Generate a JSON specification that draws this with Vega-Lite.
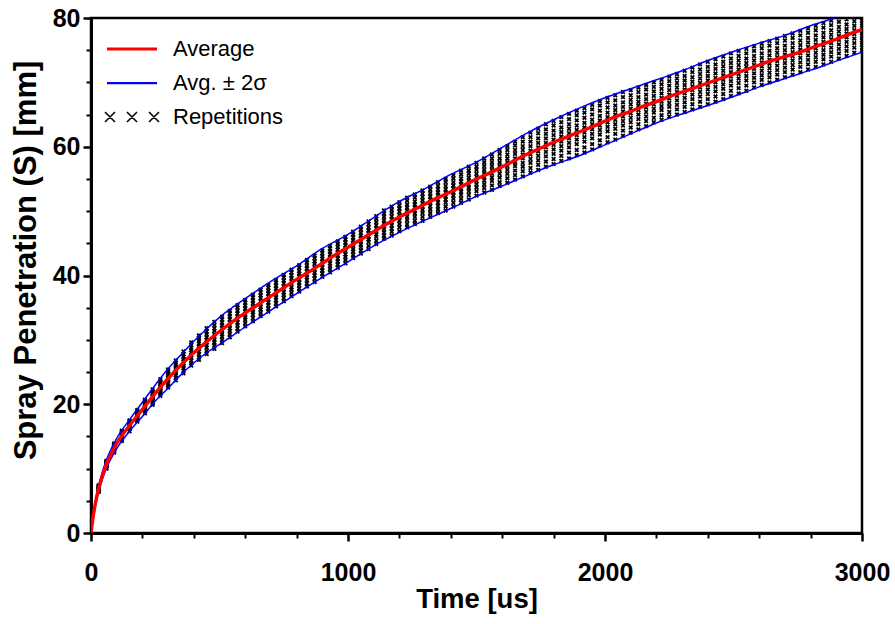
{
  "$schema": "https://vega.github.io/schema/vega-lite/v6.json",
  "width": 771,
  "height": 515,
  "autosize": {"type": "none"},
  "padding": {"left": 91, "top": 18, "right": 33, "bottom": 91},
  "background": "white",
  "config": {
    "view": {"stroke": "black", "strokeWidth": 2.5},
    "font": "Liberation Sans",
    "legend": {"orient": "none", "legendX": 30, "legendY": 20, "padding": 0, "symbolSize": 100, "symbolOpacity": 1,
      "labelFont": "Liberation Sans", "labelFontSize": 22, "labelColor": "black", "labelOffset": 30, "rowPadding": 12, "labelBaseline": "middle"}
  },
  "datasets": {
    "reps": [
      {"t":30,"s":6.4},{"t":30,"s":6.5},{"t":30,"s":6.7},{"t":30,"s":6.8},{"t":30,"s":6.9},{"t":30,"s":7.0},{"t":30,"s":7.1},{"t":30,"s":7.2},{"t":30,"s":7.3},{"t":30,"s":7.4},
      {"t":60,"s":10.0},{"t":60,"s":10.1},{"t":60,"s":10.3},{"t":60,"s":10.4},{"t":60,"s":10.5},{"t":60,"s":10.7},{"t":60,"s":10.8},{"t":60,"s":10.9},{"t":60,"s":11.1},{"t":60,"s":11.2},
      {"t":90,"s":12.5},{"t":90,"s":12.7},{"t":90,"s":12.8},{"t":90,"s":13.0},{"t":90,"s":13.1},{"t":90,"s":13.3},{"t":90,"s":13.4},{"t":90,"s":13.6},{"t":90,"s":13.7},{"t":90,"s":13.9},
      {"t":120,"s":14.3},{"t":120,"s":14.5},{"t":120,"s":14.7},{"t":120,"s":14.8},{"t":120,"s":15.0},{"t":120,"s":15.2},{"t":120,"s":15.4},{"t":120,"s":15.5},{"t":120,"s":15.7},{"t":120,"s":15.9},
      {"t":150,"s":15.8},{"t":150,"s":16.1},{"t":150,"s":16.3},{"t":150,"s":16.4},{"t":150,"s":16.6},{"t":150,"s":16.8},{"t":150,"s":17.0},{"t":150,"s":17.2},{"t":150,"s":17.4},{"t":150,"s":17.5},
      {"t":180,"s":17.3},{"t":180,"s":17.5},{"t":180,"s":17.7},{"t":180,"s":17.9},{"t":180,"s":18.1},{"t":180,"s":18.3},{"t":180,"s":18.5},{"t":180,"s":18.7},{"t":180,"s":18.9},{"t":180,"s":19.1},
      {"t":210,"s":18.6},{"t":210,"s":18.9},{"t":210,"s":19.2},{"t":210,"s":19.4},{"t":210,"s":19.6},{"t":210,"s":19.8},{"t":210,"s":20.0},{"t":210,"s":20.3},{"t":210,"s":20.5},{"t":210,"s":20.7},
      {"t":240,"s":19.9},{"t":240,"s":20.2},{"t":240,"s":20.5},{"t":240,"s":20.7},{"t":240,"s":21.0},{"t":240,"s":21.2},{"t":240,"s":21.5},{"t":240,"s":21.7},{"t":240,"s":22.0},{"t":240,"s":22.3},
      {"t":270,"s":21.3},{"t":270,"s":21.6},{"t":270,"s":21.9},{"t":270,"s":22.2},{"t":270,"s":22.5},{"t":270,"s":22.7},{"t":270,"s":23.0},{"t":270,"s":23.3},{"t":270,"s":23.6},{"t":270,"s":23.9},
      {"t":300,"s":22.6},{"t":300,"s":22.9},{"t":300,"s":23.3},{"t":300,"s":23.6},{"t":300,"s":23.9},{"t":300,"s":24.2},{"t":300,"s":24.5},{"t":300,"s":24.8},{"t":300,"s":25.1},{"t":300,"s":25.4},
      {"t":330,"s":23.7},{"t":330,"s":24.1},{"t":330,"s":24.5},{"t":330,"s":24.8},{"t":330,"s":25.1},{"t":330,"s":25.5},{"t":330,"s":25.8},{"t":330,"s":26.1},{"t":330,"s":26.5},{"t":330,"s":26.8},
      {"t":360,"s":24.8},{"t":360,"s":25.2},{"t":360,"s":25.6},{"t":360,"s":26.0},{"t":360,"s":26.3},{"t":360,"s":26.7},{"t":360,"s":27.0},{"t":360,"s":27.4},{"t":360,"s":27.8},{"t":360,"s":28.2},
      {"t":390,"s":26.0},{"t":390,"s":26.4},{"t":390,"s":26.8},{"t":390,"s":27.2},{"t":390,"s":27.6},{"t":390,"s":28.0},{"t":390,"s":28.4},{"t":390,"s":28.8},{"t":390,"s":29.2},{"t":390,"s":29.6},
      {"t":420,"s":26.9},{"t":420,"s":27.3},{"t":420,"s":27.8},{"t":420,"s":28.2},{"t":420,"s":28.6},{"t":420,"s":29.0},{"t":420,"s":29.4},{"t":420,"s":29.8},{"t":420,"s":30.3},{"t":420,"s":30.7},
      {"t":450,"s":27.8},{"t":450,"s":28.3},{"t":450,"s":28.8},{"t":450,"s":29.2},{"t":450,"s":29.6},{"t":450,"s":30.0},{"t":450,"s":30.4},{"t":450,"s":30.9},{"t":450,"s":31.3},{"t":450,"s":31.8},
      {"t":480,"s":28.6},{"t":480,"s":29.1},{"t":480,"s":29.6},{"t":480,"s":30.0},{"t":480,"s":30.5},{"t":480,"s":30.9},{"t":480,"s":31.4},{"t":480,"s":31.8},{"t":480,"s":32.3},{"t":480,"s":32.8},
      {"t":510,"s":29.5},{"t":510,"s":30.0},{"t":510,"s":30.5},{"t":510,"s":30.9},{"t":510,"s":31.4},{"t":510,"s":31.8},{"t":510,"s":32.3},{"t":510,"s":32.7},{"t":510,"s":33.2},{"t":510,"s":33.6},
      {"t":540,"s":30.4},{"t":540,"s":30.9},{"t":540,"s":31.4},{"t":540,"s":31.8},{"t":540,"s":32.3},{"t":540,"s":32.7},{"t":540,"s":33.2},{"t":540,"s":33.6},{"t":540,"s":34.1},{"t":540,"s":34.5},
      {"t":570,"s":31.3},{"t":570,"s":31.8},{"t":570,"s":32.3},{"t":570,"s":32.7},{"t":570,"s":33.2},{"t":570,"s":33.6},{"t":570,"s":34.1},{"t":570,"s":34.5},{"t":570,"s":35.0},{"t":570,"s":35.4},
      {"t":600,"s":32.1},{"t":600,"s":32.6},{"t":600,"s":33.1},{"t":600,"s":33.5},{"t":600,"s":34.0},{"t":600,"s":34.4},{"t":600,"s":34.9},{"t":600,"s":35.3},{"t":600,"s":35.8},{"t":600,"s":36.2},
      {"t":630,"s":32.9},{"t":630,"s":33.4},{"t":630,"s":33.9},{"t":630,"s":34.3},{"t":630,"s":34.8},{"t":630,"s":35.2},{"t":630,"s":35.7},{"t":630,"s":36.1},{"t":630,"s":36.6},{"t":630,"s":37.0},
      {"t":660,"s":33.7},{"t":660,"s":34.2},{"t":660,"s":34.7},{"t":660,"s":35.1},{"t":660,"s":35.6},{"t":660,"s":36.0},{"t":660,"s":36.5},{"t":660,"s":36.9},{"t":660,"s":37.4},{"t":660,"s":37.8},
      {"t":690,"s":34.4},{"t":690,"s":34.9},{"t":690,"s":35.4},{"t":690,"s":35.8},{"t":690,"s":36.3},{"t":690,"s":36.7},{"t":690,"s":37.2},{"t":690,"s":37.6},{"t":690,"s":38.1},{"t":690,"s":38.5},
      {"t":720,"s":35.2},{"t":720,"s":35.7},{"t":720,"s":36.2},{"t":720,"s":36.6},{"t":720,"s":37.1},{"t":720,"s":37.5},{"t":720,"s":38.0},{"t":720,"s":38.4},{"t":720,"s":38.9},{"t":720,"s":39.3},
      {"t":750,"s":36.0},{"t":750,"s":36.5},{"t":750,"s":37.0},{"t":750,"s":37.4},{"t":750,"s":37.9},{"t":750,"s":38.3},{"t":750,"s":38.8},{"t":750,"s":39.2},{"t":750,"s":39.7},{"t":750,"s":40.1},
      {"t":780,"s":36.8},{"t":780,"s":37.3},{"t":780,"s":37.8},{"t":780,"s":38.2},{"t":780,"s":38.7},{"t":780,"s":39.1},{"t":780,"s":39.6},{"t":780,"s":40.0},{"t":780,"s":40.5},{"t":780,"s":40.9},
      {"t":810,"s":37.5},{"t":810,"s":38.0},{"t":810,"s":38.5},{"t":810,"s":38.9},{"t":810,"s":39.4},{"t":810,"s":39.8},{"t":810,"s":40.3},{"t":810,"s":40.7},{"t":810,"s":41.2},{"t":810,"s":41.6},
      {"t":840,"s":38.3},{"t":840,"s":38.8},{"t":840,"s":39.3},{"t":840,"s":39.7},{"t":840,"s":40.2},{"t":840,"s":40.6},{"t":840,"s":41.1},{"t":840,"s":41.5},{"t":840,"s":42.0},{"t":840,"s":42.4},
      {"t":870,"s":39.0},{"t":870,"s":39.5},{"t":870,"s":40.0},{"t":870,"s":40.4},{"t":870,"s":40.9},{"t":870,"s":41.3},{"t":870,"s":41.8},{"t":870,"s":42.2},{"t":870,"s":42.7},{"t":870,"s":43.1},
      {"t":900,"s":39.8},{"t":900,"s":40.3},{"t":900,"s":40.8},{"t":900,"s":41.2},{"t":900,"s":41.7},{"t":900,"s":42.1},{"t":900,"s":42.6},{"t":900,"s":43.0},{"t":900,"s":43.5},{"t":900,"s":43.9},
      {"t":930,"s":40.5},{"t":930,"s":41.0},{"t":930,"s":41.5},{"t":930,"s":41.9},{"t":930,"s":42.4},{"t":930,"s":42.8},{"t":930,"s":43.3},{"t":930,"s":43.7},{"t":930,"s":44.2},{"t":930,"s":44.6},
      {"t":960,"s":41.2},{"t":960,"s":41.7},{"t":960,"s":42.2},{"t":960,"s":42.6},{"t":960,"s":43.1},{"t":960,"s":43.5},{"t":960,"s":44.0},{"t":960,"s":44.4},{"t":960,"s":44.9},{"t":960,"s":45.3},
      {"t":990,"s":41.9},{"t":990,"s":42.4},{"t":990,"s":42.9},{"t":990,"s":43.3},{"t":990,"s":43.8},{"t":990,"s":44.2},{"t":990,"s":44.7},{"t":990,"s":45.1},{"t":990,"s":45.6},{"t":990,"s":46.0},
      {"t":1020,"s":42.7},{"t":1020,"s":43.2},{"t":1020,"s":43.7},{"t":1020,"s":44.1},{"t":1020,"s":44.6},{"t":1020,"s":45.0},{"t":1020,"s":45.5},{"t":1020,"s":45.9},{"t":1020,"s":46.4},{"t":1020,"s":46.8},
      {"t":1050,"s":43.4},{"t":1050,"s":43.9},{"t":1050,"s":44.4},{"t":1050,"s":44.8},{"t":1050,"s":45.3},{"t":1050,"s":45.7},{"t":1050,"s":46.2},{"t":1050,"s":46.6},{"t":1050,"s":47.1},{"t":1050,"s":47.6},
      {"t":1080,"s":44.1},{"t":1080,"s":44.6},{"t":1080,"s":45.2},{"t":1080,"s":45.6},{"t":1080,"s":46.1},{"t":1080,"s":46.5},{"t":1080,"s":47.0},{"t":1080,"s":47.5},{"t":1080,"s":48.0},{"t":1080,"s":48.4},
      {"t":1110,"s":44.9},{"t":1110,"s":45.4},{"t":1110,"s":46.0},{"t":1110,"s":46.4},{"t":1110,"s":46.9},{"t":1110,"s":47.3},{"t":1110,"s":47.8},{"t":1110,"s":48.3},{"t":1110,"s":48.8},{"t":1110,"s":49.2},
      {"t":1140,"s":45.7},{"t":1140,"s":46.2},{"t":1140,"s":46.7},{"t":1140,"s":47.2},{"t":1140,"s":47.7},{"t":1140,"s":48.1},{"t":1140,"s":48.6},{"t":1140,"s":49.1},{"t":1140,"s":49.6},{"t":1140,"s":50.1},
      {"t":1170,"s":46.2},{"t":1170,"s":46.8},{"t":1170,"s":47.3},{"t":1170,"s":47.8},{"t":1170,"s":48.3},{"t":1170,"s":48.7},{"t":1170,"s":49.2},{"t":1170,"s":49.7},{"t":1170,"s":50.2},{"t":1170,"s":50.7},
      {"t":1200,"s":46.9},{"t":1200,"s":47.5},{"t":1200,"s":48.0},{"t":1200,"s":48.5},{"t":1200,"s":49.0},{"t":1200,"s":49.4},{"t":1200,"s":49.9},{"t":1200,"s":50.4},{"t":1200,"s":50.9},{"t":1200,"s":51.4},
      {"t":1230,"s":47.5},{"t":1230,"s":48.0},{"t":1230,"s":48.6},{"t":1230,"s":49.1},{"t":1230,"s":49.6},{"t":1230,"s":50.1},{"t":1230,"s":50.5},{"t":1230,"s":51.0},{"t":1230,"s":51.6},{"t":1230,"s":52.1},
      {"t":1260,"s":48.0},{"t":1260,"s":48.5},{"t":1260,"s":49.1},{"t":1260,"s":49.6},{"t":1260,"s":50.1},{"t":1260,"s":50.6},{"t":1260,"s":51.0},{"t":1260,"s":51.5},{"t":1260,"s":52.1},{"t":1260,"s":52.6},
      {"t":1290,"s":48.5},{"t":1290,"s":49.1},{"t":1290,"s":49.7},{"t":1290,"s":50.2},{"t":1290,"s":50.7},{"t":1290,"s":51.2},{"t":1290,"s":51.7},{"t":1290,"s":52.2},{"t":1290,"s":52.7},{"t":1290,"s":53.2},
      {"t":1320,"s":49.1},{"t":1320,"s":49.7},{"t":1320,"s":50.3},{"t":1320,"s":50.8},{"t":1320,"s":51.3},{"t":1320,"s":51.8},{"t":1320,"s":52.3},{"t":1320,"s":52.8},{"t":1320,"s":53.3},{"t":1320,"s":53.8},
      {"t":1350,"s":49.7},{"t":1350,"s":50.3},{"t":1350,"s":50.8},{"t":1350,"s":51.3},{"t":1350,"s":51.8},{"t":1350,"s":52.4},{"t":1350,"s":52.9},{"t":1350,"s":53.4},{"t":1350,"s":53.9},{"t":1350,"s":54.5},
      {"t":1380,"s":50.1},{"t":1380,"s":50.7},{"t":1380,"s":51.3},{"t":1380,"s":51.8},{"t":1380,"s":52.3},{"t":1380,"s":52.9},{"t":1380,"s":53.4},{"t":1380,"s":53.9},{"t":1380,"s":54.5},{"t":1380,"s":55.0},
      {"t":1410,"s":50.7},{"t":1410,"s":51.3},{"t":1410,"s":51.9},{"t":1410,"s":52.4},{"t":1410,"s":52.9},{"t":1410,"s":53.5},{"t":1410,"s":54.0},{"t":1410,"s":54.5},{"t":1410,"s":55.1},{"t":1410,"s":55.6},
      {"t":1440,"s":51.3},{"t":1440,"s":51.9},{"t":1440,"s":52.5},{"t":1440,"s":53.0},{"t":1440,"s":53.5},{"t":1440,"s":54.1},{"t":1440,"s":54.6},{"t":1440,"s":55.1},{"t":1440,"s":55.7},{"t":1440,"s":56.3},
      {"t":1470,"s":51.8},{"t":1470,"s":52.5},{"t":1470,"s":53.1},{"t":1470,"s":53.6},{"t":1470,"s":54.1},{"t":1470,"s":54.7},{"t":1470,"s":55.2},{"t":1470,"s":55.8},{"t":1470,"s":56.3},{"t":1470,"s":56.9},
      {"t":1500,"s":52.4},{"t":1500,"s":53.1},{"t":1500,"s":53.7},{"t":1500,"s":54.2},{"t":1500,"s":54.7},{"t":1500,"s":55.3},{"t":1500,"s":55.8},{"t":1500,"s":56.4},{"t":1500,"s":56.9},{"t":1500,"s":57.5},
      {"t":1530,"s":52.9},{"t":1530,"s":53.6},{"t":1530,"s":54.2},{"t":1530,"s":54.8},{"t":1530,"s":55.3},{"t":1530,"s":55.9},{"t":1530,"s":56.4},{"t":1530,"s":57.0},{"t":1530,"s":57.6},{"t":1530,"s":58.2},
      {"t":1560,"s":53.3},{"t":1560,"s":54.0},{"t":1560,"s":54.7},{"t":1560,"s":55.2},{"t":1560,"s":55.8},{"t":1560,"s":56.4},{"t":1560,"s":57.0},{"t":1560,"s":57.6},{"t":1560,"s":58.2},{"t":1560,"s":58.8},
      {"t":1590,"s":53.9},{"t":1590,"s":54.5},{"t":1590,"s":55.2},{"t":1590,"s":55.8},{"t":1590,"s":56.4},{"t":1590,"s":57.0},{"t":1590,"s":57.6},{"t":1590,"s":58.2},{"t":1590,"s":58.9},{"t":1590,"s":59.5},
      {"t":1620,"s":54.4},{"t":1620,"s":55.1},{"t":1620,"s":55.8},{"t":1620,"s":56.4},{"t":1620,"s":57.0},{"t":1620,"s":57.6},{"t":1620,"s":58.2},{"t":1620,"s":58.8},{"t":1620,"s":59.5},{"t":1620,"s":60.1},
      {"t":1650,"s":54.9},{"t":1650,"s":55.6},{"t":1650,"s":56.3},{"t":1650,"s":57.0},{"t":1650,"s":57.6},{"t":1650,"s":58.2},{"t":1650,"s":58.9},{"t":1650,"s":59.5},{"t":1650,"s":60.2},{"t":1650,"s":60.8},
      {"t":1680,"s":55.4},{"t":1680,"s":56.2},{"t":1680,"s":56.9},{"t":1680,"s":57.5},{"t":1680,"s":58.2},{"t":1680,"s":58.8},{"t":1680,"s":59.5},{"t":1680,"s":60.1},{"t":1680,"s":60.8},{"t":1680,"s":61.5},
      {"t":1710,"s":56.0},{"t":1710,"s":56.7},{"t":1710,"s":57.5},{"t":1710,"s":58.1},{"t":1710,"s":58.8},{"t":1710,"s":59.4},{"t":1710,"s":60.1},{"t":1710,"s":60.8},{"t":1710,"s":61.5},{"t":1710,"s":62.2},
      {"t":1740,"s":56.4},{"t":1740,"s":57.2},{"t":1740,"s":57.9},{"t":1740,"s":58.6},{"t":1740,"s":59.3},{"t":1740,"s":59.9},{"t":1740,"s":60.6},{"t":1740,"s":61.3},{"t":1740,"s":62.1},{"t":1740,"s":62.8},
      {"t":1770,"s":56.9},{"t":1770,"s":57.7},{"t":1770,"s":58.5},{"t":1770,"s":59.2},{"t":1770,"s":59.9},{"t":1770,"s":60.6},{"t":1770,"s":61.3},{"t":1770,"s":62.0},{"t":1770,"s":62.7},{"t":1770,"s":63.5},
      {"t":1800,"s":57.3},{"t":1800,"s":58.1},{"t":1800,"s":58.9},{"t":1800,"s":59.6},{"t":1800,"s":60.3},{"t":1800,"s":61.1},{"t":1800,"s":61.8},{"t":1800,"s":62.5},{"t":1800,"s":63.3},{"t":1800,"s":64.0},
      {"t":1830,"s":57.8},{"t":1830,"s":58.6},{"t":1830,"s":59.4},{"t":1830,"s":60.1},{"t":1830,"s":60.8},{"t":1830,"s":61.6},{"t":1830,"s":62.3},{"t":1830,"s":63.0},{"t":1830,"s":63.8},{"t":1830,"s":64.6},
      {"t":1860,"s":58.2},{"t":1860,"s":59.1},{"t":1860,"s":59.9},{"t":1860,"s":60.6},{"t":1860,"s":61.3},{"t":1860,"s":62.1},{"t":1860,"s":62.8},{"t":1860,"s":63.5},{"t":1860,"s":64.3},{"t":1860,"s":65.1},
      {"t":1890,"s":58.7},{"t":1890,"s":59.5},{"t":1890,"s":60.4},{"t":1890,"s":61.1},{"t":1890,"s":61.8},{"t":1890,"s":62.6},{"t":1890,"s":63.3},{"t":1890,"s":64.1},{"t":1890,"s":64.9},{"t":1890,"s":65.6},
      {"t":1920,"s":59.1},{"t":1920,"s":59.9},{"t":1920,"s":60.8},{"t":1920,"s":61.5},{"t":1920,"s":62.2},{"t":1920,"s":63.0},{"t":1920,"s":63.7},{"t":1920,"s":64.5},{"t":1920,"s":65.3},{"t":1920,"s":66.0},
      {"t":1950,"s":59.6},{"t":1950,"s":60.4},{"t":1950,"s":61.3},{"t":1950,"s":62.0},{"t":1950,"s":62.7},{"t":1950,"s":63.5},{"t":1950,"s":64.2},{"t":1950,"s":65.0},{"t":1950,"s":65.8},{"t":1950,"s":66.5},
      {"t":1980,"s":60.2},{"t":1980,"s":61.0},{"t":1980,"s":61.9},{"t":1980,"s":62.6},{"t":1980,"s":63.3},{"t":1980,"s":64.1},{"t":1980,"s":64.8},{"t":1980,"s":65.6},{"t":1980,"s":66.4},{"t":1980,"s":67.1},
      {"t":2010,"s":60.7},{"t":2010,"s":61.5},{"t":2010,"s":62.4},{"t":2010,"s":63.1},{"t":2010,"s":63.8},{"t":2010,"s":64.6},{"t":2010,"s":65.3},{"t":2010,"s":66.1},{"t":2010,"s":66.9},{"t":2010,"s":67.6},
      {"t":2040,"s":61.1},{"t":2040,"s":62.0},{"t":2040,"s":62.8},{"t":2040,"s":63.5},{"t":2040,"s":64.2},{"t":2040,"s":65.0},{"t":2040,"s":65.7},{"t":2040,"s":66.4},{"t":2040,"s":67.2},{"t":2040,"s":68.0},
      {"t":2070,"s":61.7},{"t":2070,"s":62.5},{"t":2070,"s":63.3},{"t":2070,"s":64.0},{"t":2070,"s":64.7},{"t":2070,"s":65.5},{"t":2070,"s":66.2},{"t":2070,"s":66.9},{"t":2070,"s":67.7},{"t":2070,"s":68.5},
      {"t":2100,"s":62.2},{"t":2100,"s":63.0},{"t":2100,"s":63.8},{"t":2100,"s":64.5},{"t":2100,"s":65.2},{"t":2100,"s":65.9},{"t":2100,"s":66.6},{"t":2100,"s":67.3},{"t":2100,"s":68.0},{"t":2100,"s":68.8},
      {"t":2130,"s":62.7},{"t":2130,"s":63.5},{"t":2130,"s":64.3},{"t":2130,"s":65.0},{"t":2130,"s":65.7},{"t":2130,"s":66.4},{"t":2130,"s":67.0},{"t":2130,"s":67.7},{"t":2130,"s":68.5},{"t":2130,"s":69.2},
      {"t":2160,"s":63.2},{"t":2160,"s":64.0},{"t":2160,"s":64.7},{"t":2160,"s":65.4},{"t":2160,"s":66.1},{"t":2160,"s":66.7},{"t":2160,"s":67.4},{"t":2160,"s":68.1},{"t":2160,"s":68.9},{"t":2160,"s":69.6},
      {"t":2190,"s":63.8},{"t":2190,"s":64.5},{"t":2190,"s":65.3},{"t":2190,"s":65.9},{"t":2190,"s":66.6},{"t":2190,"s":67.2},{"t":2190,"s":67.9},{"t":2190,"s":68.6},{"t":2190,"s":69.3},{"t":2190,"s":70.0},
      {"t":2220,"s":64.2},{"t":2220,"s":64.9},{"t":2220,"s":65.7},{"t":2220,"s":66.3},{"t":2220,"s":67.0},{"t":2220,"s":67.6},{"t":2220,"s":68.3},{"t":2220,"s":69.0},{"t":2220,"s":69.7},{"t":2220,"s":70.4},
      {"t":2250,"s":64.7},{"t":2250,"s":65.4},{"t":2250,"s":66.2},{"t":2250,"s":66.8},{"t":2250,"s":67.5},{"t":2250,"s":68.1},{"t":2250,"s":68.8},{"t":2250,"s":69.5},{"t":2250,"s":70.2},{"t":2250,"s":70.9},
      {"t":2280,"s":65.0},{"t":2280,"s":65.8},{"t":2280,"s":66.5},{"t":2280,"s":67.2},{"t":2280,"s":67.9},{"t":2280,"s":68.5},{"t":2280,"s":69.2},{"t":2280,"s":69.9},{"t":2280,"s":70.6},{"t":2280,"s":71.3},
      {"t":2310,"s":65.4},{"t":2310,"s":66.2},{"t":2310,"s":66.9},{"t":2310,"s":67.6},{"t":2310,"s":68.3},{"t":2310,"s":68.9},{"t":2310,"s":69.6},{"t":2310,"s":70.3},{"t":2310,"s":71.0},{"t":2310,"s":71.8},
      {"t":2340,"s":65.8},{"t":2340,"s":66.6},{"t":2340,"s":67.4},{"t":2340,"s":68.1},{"t":2340,"s":68.8},{"t":2340,"s":69.4},{"t":2340,"s":70.1},{"t":2340,"s":70.8},{"t":2340,"s":71.6},{"t":2340,"s":72.3},
      {"t":2370,"s":66.2},{"t":2370,"s":67.0},{"t":2370,"s":67.8},{"t":2370,"s":68.5},{"t":2370,"s":69.2},{"t":2370,"s":69.9},{"t":2370,"s":70.6},{"t":2370,"s":71.3},{"t":2370,"s":72.0},{"t":2370,"s":72.8},
      {"t":2400,"s":66.6},{"t":2400,"s":67.4},{"t":2400,"s":68.2},{"t":2400,"s":68.9},{"t":2400,"s":69.6},{"t":2400,"s":70.3},{"t":2400,"s":71.0},{"t":2400,"s":71.7},{"t":2400,"s":72.4},{"t":2400,"s":73.2},
      {"t":2430,"s":67.0},{"t":2430,"s":67.8},{"t":2430,"s":68.6},{"t":2430,"s":69.3},{"t":2430,"s":70.0},{"t":2430,"s":70.7},{"t":2430,"s":71.4},{"t":2430,"s":72.1},{"t":2430,"s":72.8},{"t":2430,"s":73.6},
      {"t":2460,"s":67.4},{"t":2460,"s":68.2},{"t":2460,"s":69.0},{"t":2460,"s":69.7},{"t":2460,"s":70.4},{"t":2460,"s":71.1},{"t":2460,"s":71.8},{"t":2460,"s":72.5},{"t":2460,"s":73.2},{"t":2460,"s":74.0},
      {"t":2490,"s":67.9},{"t":2490,"s":68.7},{"t":2490,"s":69.5},{"t":2490,"s":70.2},{"t":2490,"s":70.9},{"t":2490,"s":71.6},{"t":2490,"s":72.3},{"t":2490,"s":73.0},{"t":2490,"s":73.7},{"t":2490,"s":74.5},
      {"t":2520,"s":68.3},{"t":2520,"s":69.1},{"t":2520,"s":69.9},{"t":2520,"s":70.6},{"t":2520,"s":71.3},{"t":2520,"s":72.0},{"t":2520,"s":72.7},{"t":2520,"s":73.4},{"t":2520,"s":74.1},{"t":2520,"s":74.9},
      {"t":2550,"s":68.7},{"t":2550,"s":69.5},{"t":2550,"s":70.3},{"t":2550,"s":71.0},{"t":2550,"s":71.7},{"t":2550,"s":72.4},{"t":2550,"s":73.0},{"t":2550,"s":73.7},{"t":2550,"s":74.5},{"t":2550,"s":75.2},
      {"t":2580,"s":69.2},{"t":2580,"s":70.0},{"t":2580,"s":70.7},{"t":2580,"s":71.4},{"t":2580,"s":72.1},{"t":2580,"s":72.7},{"t":2580,"s":73.4},{"t":2580,"s":74.1},{"t":2580,"s":74.9},{"t":2580,"s":75.6},
      {"t":2610,"s":69.6},{"t":2610,"s":70.4},{"t":2610,"s":71.1},{"t":2610,"s":71.8},{"t":2610,"s":72.5},{"t":2610,"s":73.1},{"t":2610,"s":73.8},{"t":2610,"s":74.5},{"t":2610,"s":75.3},{"t":2610,"s":76.0},
      {"t":2640,"s":70.0},{"t":2640,"s":70.8},{"t":2640,"s":71.5},{"t":2640,"s":72.2},{"t":2640,"s":72.9},{"t":2640,"s":73.5},{"t":2640,"s":74.2},{"t":2640,"s":74.9},{"t":2640,"s":75.7},{"t":2640,"s":76.4},
      {"t":2670,"s":70.4},{"t":2670,"s":71.2},{"t":2670,"s":71.9},{"t":2670,"s":72.6},{"t":2670,"s":73.3},{"t":2670,"s":73.9},{"t":2670,"s":74.6},{"t":2670,"s":75.3},{"t":2670,"s":76.1},{"t":2670,"s":76.8},
      {"t":2700,"s":70.8},{"t":2700,"s":71.6},{"t":2700,"s":72.3},{"t":2700,"s":73.0},{"t":2700,"s":73.7},{"t":2700,"s":74.3},{"t":2700,"s":75.0},{"t":2700,"s":75.7},{"t":2700,"s":76.5},{"t":2700,"s":77.2},
      {"t":2730,"s":71.2},{"t":2730,"s":72.0},{"t":2730,"s":72.7},{"t":2730,"s":73.4},{"t":2730,"s":74.1},{"t":2730,"s":74.7},{"t":2730,"s":75.4},{"t":2730,"s":76.1},{"t":2730,"s":76.9},{"t":2730,"s":77.6},
      {"t":2760,"s":71.6},{"t":2760,"s":72.4},{"t":2760,"s":73.1},{"t":2760,"s":73.8},{"t":2760,"s":74.5},{"t":2760,"s":75.1},{"t":2760,"s":75.8},{"t":2760,"s":76.5},{"t":2760,"s":77.3},{"t":2760,"s":78.0},
      {"t":2790,"s":72.0},{"t":2790,"s":72.8},{"t":2790,"s":73.5},{"t":2790,"s":74.2},{"t":2790,"s":74.9},{"t":2790,"s":75.5},{"t":2790,"s":76.2},{"t":2790,"s":76.9},{"t":2790,"s":77.7},{"t":2790,"s":78.4},
      {"t":2820,"s":72.4},{"t":2820,"s":73.2},{"t":2820,"s":73.9},{"t":2820,"s":74.6},{"t":2820,"s":75.3},{"t":2820,"s":75.9},{"t":2820,"s":76.6},{"t":2820,"s":77.3},{"t":2820,"s":78.1},{"t":2820,"s":78.8},
      {"t":2850,"s":72.8},{"t":2850,"s":73.6},{"t":2850,"s":74.3},{"t":2850,"s":75.0},{"t":2850,"s":75.7},{"t":2850,"s":76.3},{"t":2850,"s":77.0},{"t":2850,"s":77.7},{"t":2850,"s":78.5},{"t":2850,"s":79.2},
      {"t":2880,"s":73.2},{"t":2880,"s":74.0},{"t":2880,"s":74.7},{"t":2880,"s":75.4},{"t":2880,"s":76.1},{"t":2880,"s":76.7},{"t":2880,"s":77.4},{"t":2880,"s":78.1},{"t":2880,"s":78.9},{"t":2880,"s":79.6},
      {"t":2910,"s":73.7},{"t":2910,"s":74.5},{"t":2910,"s":75.2},{"t":2910,"s":75.9},{"t":2910,"s":76.6},{"t":2910,"s":77.2},{"t":2910,"s":77.9},{"t":2910,"s":78.6},{"t":2910,"s":79.4},{"t":2910,"s":80.1},
      {"t":2940,"s":74.1},{"t":2940,"s":74.9},{"t":2940,"s":75.6},{"t":2940,"s":76.3},{"t":2940,"s":77.0},{"t":2940,"s":77.6},{"t":2940,"s":78.3},{"t":2940,"s":79.0},{"t":2940,"s":79.8},{"t":2940,"s":80.5},
      {"t":2970,"s":74.6},{"t":2970,"s":75.4},{"t":2970,"s":76.1},{"t":2970,"s":76.8},{"t":2970,"s":77.5},{"t":2970,"s":78.1},{"t":2970,"s":78.8},{"t":2970,"s":79.5},{"t":2970,"s":80.3},{"t":2970,"s":81.0},
      {"t":3000,"s":75.0},{"t":3000,"s":75.8},{"t":3000,"s":76.5},{"t":3000,"s":77.2},{"t":3000,"s":77.9},{"t":3000,"s":78.5},{"t":3000,"s":79.2},{"t":3000,"s":79.9},{"t":3000,"s":80.7},{"t":3000,"s":81.4}
    ],
    "avg": [
      {"t":0,"s":0},{"t":10,"s":3.0},{"t":20,"s":5.2},{"t":30,"s":6.9},{"t":40,"s":8.3},{"t":50,"s":9.6},{"t":60,"s":10.6},{"t":80,"s":12.4},{"t":100,"s":13.9},{"t":150,"s":16.7},{"t":200,"s":19.2},{"t":250,"s":21.7},{"t":300,"s":24.0},{"t":350,"s":26.1},{"t":400,"s":28.0},{"t":450,"s":29.7},{"t":500,"s":31.3},{"t":550,"s":32.8},{"t":600,"s":34.2},{"t":650,"s":35.5},{"t":700,"s":36.8},{"t":750,"s":38.1},{"t":800,"s":39.4},{"t":850,"s":40.6},{"t":900,"s":41.9},{"t":950,"s":43.2},{"t":1000,"s":44.4},{"t":1050,"s":45.6},{"t":1100,"s":46.8},{"t":1150,"s":48.0},{"t":1200,"s":49.1},{"t":1250,"s":50.1},{"t":1300,"s":51.1},{"t":1350,"s":52.1},{"t":1400,"s":53.0},{"t":1450,"s":54.0},{"t":1500,"s":55.0},{"t":1550,"s":55.9},{"t":1600,"s":56.9},{"t":1650,"s":57.9},{"t":1700,"s":58.9},{"t":1750,"s":59.8},{"t":1800,"s":60.7},{"t":1850,"s":61.5},{"t":1900,"s":62.3},{"t":1950,"s":63.1},{"t":2000,"s":64.0},{"t":2050,"s":64.8},{"t":2100,"s":65.5},{"t":2150,"s":66.3},{"t":2200,"s":67.0},{"t":2250,"s":67.8},{"t":2300,"s":68.5},{"t":2350,"s":69.2},{"t":2400,"s":69.9},{"t":2450,"s":70.6},{"t":2500,"s":71.3},{"t":2550,"s":72.0},{"t":2600,"s":72.7},{"t":2650,"s":73.4},{"t":2700,"s":74.0},{"t":2750,"s":74.6},{"t":2800,"s":75.3},{"t":2850,"s":76.0},{"t":2900,"s":76.7},{"t":2950,"s":77.5},{"t":3000,"s":78.2}
    ],
    "band": [
      {"t":0,"s":0,"b":"u"},{"t":20,"s":5.6,"b":"u"},{"t":50,"s":10.2,"b":"u"},{"t":100,"s":14.7,"b":"u"},{"t":150,"s":17.6,"b":"u"},{"t":200,"s":20.3,"b":"u"},{"t":250,"s":23.0,"b":"u"},{"t":300,"s":25.5,"b":"u"},{"t":350,"s":27.7,"b":"u"},{"t":400,"s":29.8,"b":"u"},{"t":450,"s":31.7,"b":"u"},{"t":500,"s":33.5,"b":"u"},{"t":600,"s":36.4,"b":"u"},{"t":700,"s":39.1,"b":"u"},{"t":800,"s":41.5,"b":"u"},{"t":900,"s":44.2,"b":"u"},{"t":1000,"s":46.4,"b":"u"},{"t":1100,"s":49.0,"b":"u"},{"t":1200,"s":51.5,"b":"u"},{"t":1300,"s":53.5,"b":"u"},{"t":1400,"s":55.7,"b":"u"},{"t":1500,"s":57.6,"b":"u"},{"t":1600,"s":59.9,"b":"u"},{"t":1700,"s":62.2,"b":"u"},{"t":1800,"s":64.2,"b":"u"},{"t":1900,"s":66.0,"b":"u"},{"t":2000,"s":67.6,"b":"u"},{"t":2100,"s":69.0,"b":"u"},{"t":2200,"s":70.4,"b":"u"},{"t":2300,"s":71.8,"b":"u"},{"t":2400,"s":73.4,"b":"u"},{"t":2500,"s":74.8,"b":"u"},{"t":2600,"s":76.1,"b":"u"},{"t":2700,"s":77.3,"b":"u"},{"t":2800,"s":78.8,"b":"u"},{"t":2900,"s":80.1,"b":"u"},{"t":3000,"s":81.6,"b":"u"},
      {"t":0,"s":0,"b":"l"},{"t":20,"s":4.8,"b":"l"},{"t":50,"s":9.0,"b":"l"},{"t":100,"s":13.1,"b":"l"},{"t":150,"s":15.8,"b":"l"},{"t":200,"s":18.1,"b":"l"},{"t":250,"s":20.5,"b":"l"},{"t":300,"s":22.5,"b":"l"},{"t":350,"s":24.6,"b":"l"},{"t":400,"s":26.4,"b":"l"},{"t":450,"s":28.0,"b":"l"},{"t":500,"s":29.3,"b":"l"},{"t":600,"s":32.0,"b":"l"},{"t":700,"s":34.6,"b":"l"},{"t":800,"s":37.2,"b":"l"},{"t":900,"s":39.7,"b":"l"},{"t":1000,"s":42.1,"b":"l"},{"t":1100,"s":44.6,"b":"l"},{"t":1200,"s":46.7,"b":"l"},{"t":1300,"s":48.6,"b":"l"},{"t":1400,"s":50.4,"b":"l"},{"t":1500,"s":52.3,"b":"l"},{"t":1600,"s":53.9,"b":"l"},{"t":1700,"s":55.6,"b":"l"},{"t":1800,"s":57.2,"b":"l"},{"t":1900,"s":58.6,"b":"l"},{"t":2000,"s":60.3,"b":"l"},{"t":2100,"s":62.0,"b":"l"},{"t":2200,"s":63.7,"b":"l"},{"t":2300,"s":65.1,"b":"l"},{"t":2400,"s":66.4,"b":"l"},{"t":2500,"s":67.8,"b":"l"},{"t":2600,"s":69.3,"b":"l"},{"t":2700,"s":70.6,"b":"l"},{"t":2800,"s":71.9,"b":"l"},{"t":2900,"s":73.3,"b":"l"},{"t":3000,"s":74.7,"b":"l"}
    ],
    "origin": [{"t":0,"s":0}],
    "keys": [{"k":"Average"},{"k":"Avg. ± 2σ"},{"k":"Repetitions"}]
  },
  "resolve": {"axis": {"x": "independent", "y": "independent"}},
  "layer": [
    {
      "data": {"name": "reps"},
      "mark": {"type": "point", "shape": "M-1,-1L1,1M-1,1L1,-1", "size": 13, "strokeWidth": 1.8, "filled": false, "opacity": 1, "color": "black", "clip": true},
      "encoding": {
        "x": {"field": "t", "type": "quantitative", "scale": {"domain": [0, 3000], "nice": false, "zero": false},
          "axis": {"orient": "bottom", "values": [0, 1000, 2000, 3000], "format": "d", "title": "Time [us]", "grid": false,
            "labelFont": "Liberation Sans", "labelFontWeight": "bold", "labelFontSize": 25, "labelColor": "black", "labelPadding": 19, "labelFlush": false, "labelOverlap": false,
            "tickSize": 8, "tickWidth": 2.5, "tickColor": "black", "domainColor": "black", "domainWidth": 3,
            "titleFont": "Liberation Sans", "titleFontSize": 27.5, "titleFontWeight": "bold", "titleColor": "black", "titlePadding": 0}},
        "y": {"field": "s", "type": "quantitative", "scale": {"domain": [0, 80], "nice": false, "zero": false},
          "axis": {"orient": "left", "values": [0, 20, 40, 60, 80], "format": "d", "title": "Spray Penetration (S) [mm]", "grid": false,
            "labelFont": "Liberation Sans", "labelFontWeight": "bold", "labelFontSize": 25, "labelColor": "black", "labelPadding": 3, "labelFlush": false, "labelOverlap": false,
            "tickSize": 8, "tickWidth": 2.5, "tickColor": "black", "domainColor": "black", "domainWidth": 3,
            "titleFont": "Liberation Sans", "titleFontSize": 31, "titleFontWeight": "bold", "titleColor": "black", "titlePadding": 10, "titleY": 242}}
      }
    },
    {
      "data": {"name": "band"},
      "mark": {"type": "line", "strokeWidth": 1.5, "interpolate": "monotone", "clip": true},
      "encoding": {
        "x": {"field": "t", "type": "quantitative", "axis": null},
        "y": {"field": "s", "type": "quantitative", "axis": null},
        "detail": {"field": "b"},
        "color": {"datum": "Avg. ± 2σ", "type": "nominal"}
      }
    },
    {
      "data": {"name": "avg"},
      "mark": {"type": "line", "strokeWidth": 3.4, "interpolate": "monotone", "clip": true},
      "encoding": {
        "x": {"field": "t", "type": "quantitative", "axis": null},
        "y": {"field": "s", "type": "quantitative", "axis": null},
        "color": {"datum": "Average", "type": "nominal"}
      }
    },
    {
      "data": {"name": "keys"},
      "mark": {"type": "point", "opacity": 0, "filled": false},
      "encoding": {
        "color": {"field": "k", "type": "nominal", "title": null,
          "scale": {"domain": ["Average", "Avg. ± 2σ", "Repetitions"], "range": ["#ff0000", "#0000ff", "#000000"]}},
        "shape": {"field": "k", "type": "nominal", "title": null,
          "scale": {"domain": ["Average", "Avg. ± 2σ", "Repetitions"], "range": ["M-5,0L5,0", "M-5,0L5,0", "M-5.4,-1L-3.4,1M-5.4,1L-3.4,-1M-1,-1L1,1M-1,1L1,-1M3.4,-1L5.4,1M3.4,1L5.4,-1"]}},
        "strokeWidth": {"field": "k", "type": "nominal", "title": null,
          "scale": {"domain": ["Average", "Avg. ± 2σ", "Repetitions"], "range": [3, 1.5, 1.4]}}
      }
    },
    {
      "data": {"name": "origin"},
      "mark": {"type": "point", "opacity": 0},
      "encoding": {
        "x": {"field": "t", "type": "quantitative",
          "axis": {"orient": "bottom", "values": [200, 400, 600, 800, 1200, 1400, 1600, 1800, 2200, 2400, 2600, 2800], "labels": false, "domain": false, "grid": false, "title": null, "tickSize": 5, "tickWidth": 2, "tickColor": "black"}},
        "y": {"field": "s", "type": "quantitative",
          "axis": {"orient": "left", "values": [5, 10, 15, 25, 30, 35, 45, 50, 55, 65, 70, 75], "labels": false, "domain": false, "grid": false, "title": null, "tickSize": 5, "tickWidth": 2, "tickColor": "black"}}
      }
    }
  ]
}
